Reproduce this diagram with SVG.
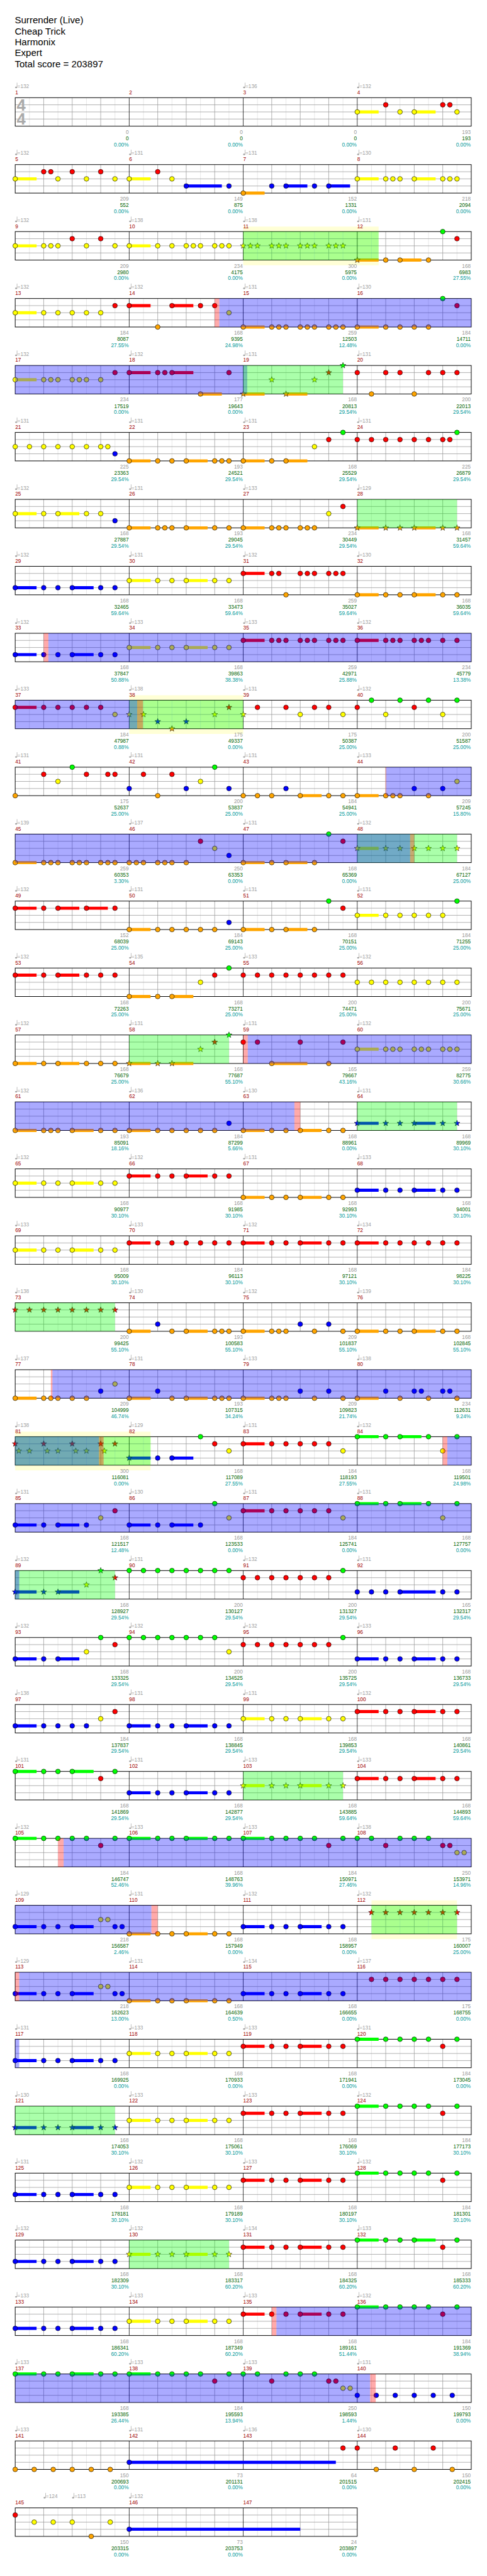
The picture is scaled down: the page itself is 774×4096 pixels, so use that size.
<svg xmlns="http://www.w3.org/2000/svg" width="774" height="4096" viewBox="0 0 774 4096">
<style>
text{font-family:"Liberation Sans",Arial,sans-serif}
.ti{font-size:20px;fill:#000}
.tp{font-size:11px;fill:#a0a0a0}
.mn{font-size:11px;fill:#a00000}
.gy{font-size:11px;fill:#999;text-anchor:end}
.gn{font-size:11px;fill:#006400;text-anchor:end}
.pc{font-size:11px;fill:#00999a;text-anchor:end}
.ts{font-size:34px;font-weight:bold;fill:#aaa}
.g{fill:#00ff00}.r{fill:#ff0000}.y{fill:#ffff00}.b{fill:#0000ff}.o{fill:#ffa500}
.sg,.sr,.sy,.sb,.so{fill:none;stroke-width:6.5}
.sg{stroke:#00ff00}.sr{stroke:#ff0000}.sy{stroke:#ffff00}.sb{stroke:#0000ff}.so{stroke:#ffa500}
.bo{fill:#0000ff;fill-opacity:.333}.go{fill:#00ff00;fill-opacity:.333}.po{fill:#ff0000;fill-opacity:.333}.pb{fill:#ffffd6}
</style>
<defs>
<g id="G4">
<path d="M62 0V60M122 0V60M182 0V60M242 0V60M302 0V60M362 0V60M422 0V60M482 0V60M542 0V60M602 0V60M662 0V60M722 0V60M782 0V60M842 0V60M902 0V60M962 0V60" stroke="#e0e0e0"/>
<path d="M92 0V60M152 0V60M212 0V60M332 0V60M392 0V60M452 0V60M572 0V60M632 0V60M692 0V60M812 0V60M872 0V60M932 0V60M32 15H992M32 30H992M32 45H992" stroke="#999"/>
<path d="M272 0V60M512 0V60M752 0V60" stroke="#000"/>
<rect x="32" y="0" width="960" height="60" fill="none" stroke="#000" stroke-width="1.3"/>
</g>
<g id="G3">
<path d="M62 0V60M122 0V60M182 0V60M242 0V60M302 0V60M362 0V60M422 0V60M482 0V60M542 0V60M602 0V60M662 0V60M722 0V60" stroke="#e0e0e0"/>
<path d="M92 0V60M152 0V60M212 0V60M332 0V60M392 0V60M452 0V60M572 0V60M632 0V60M692 0V60M32 15H752M32 30H752M32 45H752" stroke="#999"/>
<path d="M272 0V60M512 0V60" stroke="#000"/>
<rect x="32" y="0" width="720" height="60" fill="none" stroke="#000" stroke-width="1.3"/>
</g>
<circle id="c" r="5" stroke="#000" stroke-width="0.8"/>
<path id="s" d="M0,-6.5L1.59,-2.18L6.18,-2.01L2.57,0.83L3.82,5.26L0,2.7L-3.82,5.26L-2.57,0.83L-6.18,-2.01L-1.59,-2.18Z" stroke="#000" stroke-width="0.7"/>
<g id="q" fill="#a0a0a0"><ellipse cx="1.9" cy="0" rx="2.1" ry="1.6"/><rect x="3.4" y="-10" width="0.9" height="10"/></g>
<g id="Q4"><use href="#q" x="32" y="-21.5"/><use href="#q" x="272" y="-21.5"/><use href="#q" x="512" y="-21.5"/><use href="#q" x="752" y="-21.5"/></g>
</defs>
<g transform="scale(0.755)">
<g id="title" class="ti">
<text x="31" y="49.5">Surrender (Live)</text>
<text x="31" y="72.5">Cheap Trick</text>
<text x="31" y="95.5">Harmonix</text>
<text x="31" y="118.5">Expert</text>
<text x="31" y="141.5">Total score = 203897</text>
</g>

<g id="row1" transform="translate(0,205.7)">
<use href="#G4"/>
<text class="ts" x="35" y="27.3">4</text><text class="ts" x="35" y="57">4</text>
<path class="sy" d="M752 30h45M872 30h45"/>
<use href="#c" class="y" x="752" y="30"/><use href="#c" class="r" x="812" y="15"/><use href="#c" class="y" x="842" y="30"/><use href="#c" class="y" x="872" y="30"/><use href="#c" class="r" x="932" y="15"/><use href="#c" class="r" x="947" y="15"/><use href="#c" class="y" x="962" y="30"/>
<use href="#q" x="32" y="-21.5"/><use href="#q" x="512" y="-21.5"/><use href="#q" x="752" y="-21.5"/>
<text class="tp" y="-20.4"><tspan x="36.5">=132</tspan><tspan x="516.5">=136</tspan><tspan x="756.5">=132</tspan></text>
<text class="mn" y="-7.5"><tspan x="32">1</tspan><tspan x="272">2</tspan><tspan x="512">3</tspan><tspan x="752">4</tspan></text>
<text class="gy" y="76"><tspan x="271">0</tspan><tspan x="511">0</tspan><tspan x="751">0</tspan><tspan x="991">193</tspan></text>
<text class="gn" y="89.3"><tspan x="271">0</tspan><tspan x="511">0</tspan><tspan x="751">0</tspan><tspan x="991">193</tspan></text>
<text class="pc" y="102.3"><tspan x="271">0.00%</tspan><tspan x="511">0.00%</tspan><tspan x="751">0.00%</tspan><tspan x="991">0.00%</tspan></text>
</g>

<g id="row2" transform="translate(0,346.7)">
<use href="#G4"/>
<path class="sy" d="M32 30h45M272 30h45M752 30h45M872 30h45"/><path class="sb" d="M392 45h75M602 45h45M692 45h45"/><path class="so" d="M512 60h45"/>
<use href="#c" class="y" x="32" y="30"/><use href="#c" class="r" x="92" y="15"/><use href="#c" class="r" x="107" y="15"/><use href="#c" class="y" x="122" y="30"/><use href="#c" class="r" x="152" y="15"/><use href="#c" class="y" x="182" y="30"/><use href="#c" class="r" x="212" y="15"/><use href="#c" class="y" x="242" y="30"/><use href="#c" class="y" x="272" y="30"/><use href="#c" class="r" x="332" y="15"/><use href="#c" class="y" x="362" y="30"/><use href="#c" class="b" x="392" y="45"/><use href="#c" class="b" x="482" y="45"/><use href="#c" class="o" x="512" y="60"/><use href="#c" class="b" x="572" y="45"/><use href="#c" class="b" x="602" y="45"/><use href="#c" class="b" x="662" y="45"/><use href="#c" class="b" x="692" y="45"/><use href="#c" class="y" x="752" y="30"/><use href="#c" class="y" x="812" y="30"/><use href="#c" class="y" x="827" y="30"/><use href="#c" class="y" x="842" y="30"/><use href="#c" class="y" x="872" y="30"/><use href="#c" class="y" x="932" y="30"/><use href="#c" class="y" x="947" y="30"/><use href="#c" class="y" x="962" y="30"/>
<use href="#Q4"/>
<text class="tp" y="-20.4"><tspan x="36.5">=132</tspan><tspan x="276.5">=131</tspan><tspan x="516.5">=131</tspan><tspan x="756.5">=130</tspan></text>
<text class="mn" y="-7.5"><tspan x="32">5</tspan><tspan x="272">6</tspan><tspan x="512">7</tspan><tspan x="752">8</tspan></text>
<text class="gy" y="76"><tspan x="271">209</tspan><tspan x="511">149</tspan><tspan x="751">152</tspan><tspan x="991">218</tspan></text>
<text class="gn" y="89.3"><tspan x="271">552</tspan><tspan x="511">875</tspan><tspan x="751">1331</tspan><tspan x="991">2094</tspan></text>
<text class="pc" y="102.3"><tspan x="271">0.00%</tspan><tspan x="511">0.00%</tspan><tspan x="751">0.00%</tspan><tspan x="991">0.00%</tspan></text>
</g>

<g id="row3" transform="translate(0,487.7)">
<rect class="pb" x="512" y="-10.5" width="285" height="81.5"/>
<use href="#G4"/>
<path class="sy" d="M32 30h45M272 30h45"/><path class="so" d="M752 60h45M842 60h45"/>
<use href="#c" class="y" x="32" y="30"/><use href="#c" class="y" x="92" y="30"/><use href="#c" class="y" x="107" y="30"/><use href="#c" class="y" x="122" y="30"/><use href="#c" class="r" x="152" y="15"/><use href="#c" class="y" x="182" y="30"/><use href="#c" class="r" x="212" y="15"/><use href="#c" class="y" x="242" y="30"/><use href="#c" class="y" x="272" y="30"/><use href="#c" class="y" x="332" y="30"/><use href="#c" class="y" x="362" y="30"/><use href="#c" class="y" x="392" y="30"/><use href="#c" class="y" x="407" y="30"/><use href="#c" class="y" x="422" y="30"/><use href="#c" class="y" x="452" y="30"/><use href="#c" class="y" x="467" y="30"/><use href="#c" class="y" x="482" y="30"/>
<use href="#s" class="y" x="512" y="30"/><use href="#s" class="y" x="527" y="30"/><use href="#s" class="y" x="542" y="30"/><use href="#s" class="y" x="572" y="30"/><use href="#s" class="y" x="587" y="30"/><use href="#s" class="y" x="602" y="30"/><use href="#s" class="y" x="632" y="30"/><use href="#s" class="y" x="647" y="30"/><use href="#s" class="y" x="662" y="30"/><use href="#s" class="y" x="692" y="30"/><use href="#s" class="y" x="707" y="30"/><use href="#s" class="y" x="722" y="30"/><use href="#s" class="o" x="752" y="60"/>
<use href="#c" class="o" x="812" y="60"/><use href="#c" class="o" x="842" y="60"/><use href="#c" class="o" x="902" y="60"/><use href="#c" class="g" x="932" y="0"/><use href="#c" class="r" x="962" y="15"/>
<rect class="go" x="512" y="0" width="285" height="60"/>
<use href="#Q4"/>
<text class="tp" y="-20.4"><tspan x="36.5">=132</tspan><tspan x="276.5">=138</tspan><tspan x="516.5">=138</tspan><tspan x="756.5">=131</tspan></text>
<text class="mn" y="-7.5"><tspan x="32">9</tspan><tspan x="272">10</tspan><tspan x="512">11</tspan><tspan x="752">12</tspan></text>
<text class="gy" y="76"><tspan x="271">209</tspan><tspan x="511">234</tspan><tspan x="751">300</tspan><tspan x="991">168</tspan></text>
<text class="gn" y="89.3"><tspan x="271">2980</tspan><tspan x="511">4175</tspan><tspan x="751">5975</tspan><tspan x="991">6983</tspan></text>
<text class="pc" y="102.3"><tspan x="271">0.00%</tspan><tspan x="511">0.00%</tspan><tspan x="751">0.00%</tspan><tspan x="991">27.55%</tspan></text>
</g>

<g id="row4" transform="translate(0,628.7)">
<use href="#G4"/>
<path class="sy" d="M32 30h45"/><path class="sr" d="M272 15h45M362 15h45"/><path class="so" d="M512 60h45M752 60h45"/>
<use href="#c" class="y" x="32" y="30"/><use href="#c" class="y" x="92" y="30"/><use href="#c" class="y" x="122" y="30"/><use href="#c" class="y" x="152" y="30"/><use href="#c" class="y" x="182" y="30"/><use href="#c" class="y" x="212" y="30"/><use href="#c" class="r" x="242" y="15"/><use href="#c" class="r" x="272" y="15"/><use href="#c" class="o" x="332" y="60"/><use href="#c" class="r" x="362" y="15"/><use href="#c" class="r" x="422" y="15"/><use href="#c" class="r" x="452" y="15"/><use href="#c" class="y" x="482" y="30"/><use href="#c" class="o" x="512" y="60"/><use href="#c" class="o" x="572" y="60"/><use href="#c" class="o" x="587" y="60"/><use href="#c" class="o" x="602" y="60"/><use href="#c" class="o" x="632" y="60"/><use href="#c" class="o" x="647" y="60"/><use href="#c" class="o" x="662" y="60"/><use href="#c" class="o" x="692" y="60"/><use href="#c" class="o" x="707" y="60"/><use href="#c" class="o" x="722" y="60"/><use href="#c" class="o" x="752" y="60"/><use href="#c" class="o" x="812" y="60"/><use href="#c" class="o" x="842" y="60"/><use href="#c" class="o" x="872" y="60"/><use href="#c" class="o" x="902" y="60"/><use href="#c" class="g" x="932" y="0"/><use href="#c" class="r" x="962" y="15"/>
<rect class="po" x="451.9" y="0" width="9.8" height="60"/><rect class="bo" x="461.7" y="0" width="530.3" height="60"/>
<use href="#Q4"/>
<text class="tp" y="-20.4"><tspan x="36.5">=132</tspan><tspan x="276.5">=132</tspan><tspan x="516.5">=131</tspan><tspan x="756.5">=130</tspan></text>
<text class="mn" y="-7.5"><tspan x="32">13</tspan><tspan x="272">14</tspan><tspan x="512">15</tspan><tspan x="752">16</tspan></text>
<text class="gy" y="76"><tspan x="271">184</tspan><tspan x="511">168</tspan><tspan x="751">259</tspan><tspan x="991">184</tspan></text>
<text class="gn" y="89.3"><tspan x="271">8087</tspan><tspan x="511">9395</tspan><tspan x="751">12503</tspan><tspan x="991">14711</tspan></text>
<text class="pc" y="102.3"><tspan x="271">27.55%</tspan><tspan x="511">24.98%</tspan><tspan x="751">12.48%</tspan><tspan x="991">0.00%</tspan></text>
</g>

<g id="row5" transform="translate(0,769.7)">
<use href="#G4"/>
<path class="sy" d="M32 30h45"/><path class="sr" d="M272 15h45M362 15h45"/><path class="so" d="M422 60h45M512 60h45M602 60h45"/>
<use href="#c" class="y" x="32" y="30"/><use href="#c" class="y" x="92" y="30"/><use href="#c" class="y" x="107" y="30"/><use href="#c" class="y" x="122" y="30"/><use href="#c" class="y" x="152" y="30"/><use href="#c" class="y" x="167" y="30"/><use href="#c" class="y" x="182" y="30"/><use href="#c" class="y" x="212" y="30"/><use href="#c" class="r" x="242" y="15"/><use href="#c" class="r" x="272" y="15"/><use href="#c" class="r" x="332" y="15"/><use href="#c" class="r" x="347" y="15"/><use href="#c" class="r" x="362" y="15"/><use href="#c" class="o" x="422" y="60"/><use href="#c" class="r" x="482" y="15"/>
<use href="#s" class="o" x="512" y="60"/><use href="#s" class="y" x="572" y="30"/><use href="#s" class="o" x="602" y="60"/><use href="#s" class="y" x="662" y="30"/><use href="#s" class="r" x="692" y="15"/><use href="#s" class="g" x="722" y="0"/>
<use href="#c" class="r" x="752" y="15"/><use href="#c" class="o" x="782" y="60"/><use href="#c" class="r" x="812" y="15"/><use href="#c" class="r" x="842" y="15"/><use href="#c" class="o" x="872" y="60"/><use href="#c" class="r" x="902" y="15"/><use href="#c" class="r" x="932" y="15"/><use href="#c" class="r" x="962" y="15"/>
<rect class="bo" x="32" y="0" width="488.5" height="60"/><rect class="go" x="512" y="0" width="210" height="60"/>
<use href="#Q4"/>
<text class="tp" y="-20.4"><tspan x="36.5">=132</tspan><tspan x="276.5">=132</tspan><tspan x="516.5">=131</tspan><tspan x="756.5">=131</tspan></text>
<text class="mn" y="-7.5"><tspan x="32">17</tspan><tspan x="272">18</tspan><tspan x="512">19</tspan><tspan x="752">20</tspan></text>
<text class="gy" y="76"><tspan x="271">234</tspan><tspan x="511">177</tspan><tspan x="751">168</tspan><tspan x="991">200</tspan></text>
<text class="gn" y="89.3"><tspan x="271">17519</tspan><tspan x="511">19643</tspan><tspan x="751">20813</tspan><tspan x="991">22013</tspan></text>
<text class="pc" y="102.3"><tspan x="271">0.00%</tspan><tspan x="511">0.00%</tspan><tspan x="751">29.54%</tspan><tspan x="991">29.54%</tspan></text>
</g>

<g id="row6" transform="translate(0,910.7)">
<use href="#G4"/>
<path class="so" d="M272 60h45M392 60h45M512 60h45M602 60h45"/>
<use href="#c" class="y" x="32" y="30"/><use href="#c" class="y" x="62" y="30"/><use href="#c" class="y" x="92" y="30"/><use href="#c" class="y" x="122" y="30"/><use href="#c" class="y" x="152" y="30"/><use href="#c" class="y" x="182" y="30"/><use href="#c" class="y" x="212" y="30"/><use href="#c" class="y" x="227" y="30"/><use href="#c" class="b" x="242" y="45"/><use href="#c" class="o" x="272" y="60"/><use href="#c" class="o" x="332" y="60"/><use href="#c" class="o" x="362" y="60"/><use href="#c" class="o" x="392" y="60"/><use href="#c" class="o" x="452" y="60"/><use href="#c" class="o" x="467" y="60"/><use href="#c" class="o" x="482" y="60"/><use href="#c" class="o" x="512" y="60"/><use href="#c" class="o" x="572" y="60"/><use href="#c" class="o" x="602" y="60"/><use href="#c" class="y" x="662" y="30"/><use href="#c" class="r" x="692" y="15"/><use href="#c" class="g" x="722" y="0"/><use href="#c" class="r" x="752" y="15"/><use href="#c" class="r" x="782" y="15"/><use href="#c" class="r" x="812" y="15"/><use href="#c" class="r" x="842" y="15"/><use href="#c" class="r" x="872" y="15"/><use href="#c" class="r" x="902" y="15"/><use href="#c" class="r" x="932" y="15"/><use href="#c" class="r" x="947" y="15"/><use href="#c" class="g" x="962" y="0"/>
<use href="#Q4"/>
<text class="tp" y="-20.4"><tspan x="36.5">=131</tspan><tspan x="276.5">=131</tspan><tspan x="516.5">=131</tspan><tspan x="756.5">=131</tspan></text>
<text class="mn" y="-7.5"><tspan x="32">21</tspan><tspan x="272">22</tspan><tspan x="512">23</tspan><tspan x="752">24</tspan></text>
<text class="gy" y="76"><tspan x="271">225</tspan><tspan x="511">193</tspan><tspan x="751">168</tspan><tspan x="991">225</tspan></text>
<text class="gn" y="89.3"><tspan x="271">23363</tspan><tspan x="511">24521</tspan><tspan x="751">25529</tspan><tspan x="991">26879</tspan></text>
<text class="pc" y="102.3"><tspan x="271">29.54%</tspan><tspan x="511">29.54%</tspan><tspan x="751">29.54%</tspan><tspan x="991">29.54%</tspan></text>
</g>

<g id="row7" transform="translate(0,1051.7)">
<use href="#G4"/>
<path class="sy" d="M32 30h45M122 30h45"/><path class="so" d="M272 60h45M392 60h45M512 60h45M752 60h45M872 60h45"/>
<use href="#c" class="y" x="32" y="30"/><use href="#c" class="y" x="92" y="30"/><use href="#c" class="y" x="122" y="30"/><use href="#c" class="y" x="182" y="30"/><use href="#c" class="y" x="212" y="30"/><use href="#c" class="b" x="242" y="45"/><use href="#c" class="o" x="272" y="60"/><use href="#c" class="o" x="332" y="60"/><use href="#c" class="o" x="347" y="60"/><use href="#c" class="o" x="362" y="60"/><use href="#c" class="o" x="392" y="60"/><use href="#c" class="o" x="452" y="60"/><use href="#c" class="o" x="482" y="60"/><use href="#c" class="o" x="512" y="60"/><use href="#c" class="o" x="572" y="60"/><use href="#c" class="o" x="587" y="60"/><use href="#c" class="o" x="602" y="60"/><use href="#c" class="o" x="632" y="60"/><use href="#c" class="o" x="647" y="60"/><use href="#c" class="o" x="662" y="60"/><use href="#c" class="y" x="692" y="30"/><use href="#c" class="r" x="722" y="15"/>
<use href="#s" class="o" x="752" y="60"/><use href="#s" class="o" x="812" y="60"/><use href="#s" class="o" x="842" y="60"/><use href="#s" class="o" x="872" y="60"/><use href="#s" class="o" x="932" y="60"/><use href="#s" class="o" x="962" y="60"/>
<rect class="go" x="752" y="0" width="210" height="60"/>
<use href="#Q4"/>
<text class="tp" y="-20.4"><tspan x="36.5">=132</tspan><tspan x="276.5">=131</tspan><tspan x="516.5">=133</tspan><tspan x="756.5">=129</tspan></text>
<text class="mn" y="-7.5"><tspan x="32">25</tspan><tspan x="272">26</tspan><tspan x="512">27</tspan><tspan x="752">28</tspan></text>
<text class="gy" y="76"><tspan x="271">168</tspan><tspan x="511">193</tspan><tspan x="751">234</tspan><tspan x="991">168</tspan></text>
<text class="gn" y="89.3"><tspan x="271">27887</tspan><tspan x="511">29045</tspan><tspan x="751">30449</tspan><tspan x="991">31457</tspan></text>
<text class="pc" y="102.3"><tspan x="271">29.54%</tspan><tspan x="511">29.54%</tspan><tspan x="751">29.54%</tspan><tspan x="991">59.64%</tspan></text>
</g>

<g id="row8" transform="translate(0,1192.7)">
<use href="#G4"/>
<path class="sb" d="M32 45h45M152 45h45"/><path class="sy" d="M272 30h45M392 30h45"/><path class="sr" d="M512 15h45"/><path class="so" d="M752 60h45M872 60h45"/>
<use href="#c" class="b" x="32" y="45"/><use href="#c" class="b" x="92" y="45"/><use href="#c" class="b" x="122" y="45"/><use href="#c" class="b" x="152" y="45"/><use href="#c" class="b" x="212" y="45"/><use href="#c" class="b" x="242" y="45"/><use href="#c" class="y" x="272" y="30"/><use href="#c" class="y" x="332" y="30"/><use href="#c" class="y" x="362" y="30"/><use href="#c" class="y" x="392" y="30"/><use href="#c" class="y" x="452" y="30"/><use href="#c" class="y" x="482" y="30"/><use href="#c" class="r" x="512" y="15"/><use href="#c" class="r" x="572" y="15"/><use href="#c" class="r" x="587" y="15"/><use href="#c" class="o" x="602" y="60"/><use href="#c" class="r" x="632" y="15"/><use href="#c" class="r" x="647" y="15"/><use href="#c" class="r" x="662" y="15"/><use href="#c" class="r" x="692" y="15"/><use href="#c" class="r" x="707" y="15"/><use href="#c" class="r" x="722" y="15"/><use href="#c" class="o" x="752" y="60"/><use href="#c" class="o" x="812" y="60"/><use href="#c" class="o" x="842" y="60"/><use href="#c" class="o" x="872" y="60"/><use href="#c" class="o" x="932" y="60"/><use href="#c" class="o" x="962" y="60"/>
<use href="#Q4"/>
<text class="tp" y="-20.4"><tspan x="36.5">=132</tspan><tspan x="276.5">=131</tspan><tspan x="516.5">=132</tspan><tspan x="756.5">=130</tspan></text>
<text class="mn" y="-7.5"><tspan x="32">29</tspan><tspan x="272">30</tspan><tspan x="512">31</tspan><tspan x="752">32</tspan></text>
<text class="gy" y="76"><tspan x="271">168</tspan><tspan x="511">168</tspan><tspan x="751">259</tspan><tspan x="991">168</tspan></text>
<text class="gn" y="89.3"><tspan x="271">32465</tspan><tspan x="511">33473</tspan><tspan x="751">35027</tspan><tspan x="991">36035</tspan></text>
<text class="pc" y="102.3"><tspan x="271">59.64%</tspan><tspan x="511">59.64%</tspan><tspan x="751">59.64%</tspan><tspan x="991">59.64%</tspan></text>
</g>

<g id="row9" transform="translate(0,1333.7)">
<use href="#G4"/>
<path class="sb" d="M32 45h45M152 45h45"/><path class="sy" d="M272 30h45M392 30h45"/><path class="sr" d="M512 15h45M752 15h45"/>
<use href="#c" class="b" x="32" y="45"/><use href="#c" class="b" x="92" y="45"/><use href="#c" class="b" x="122" y="45"/><use href="#c" class="b" x="152" y="45"/><use href="#c" class="b" x="212" y="45"/><use href="#c" class="b" x="242" y="45"/><use href="#c" class="y" x="272" y="30"/><use href="#c" class="y" x="332" y="30"/><use href="#c" class="y" x="362" y="30"/><use href="#c" class="y" x="392" y="30"/><use href="#c" class="y" x="452" y="30"/><use href="#c" class="y" x="482" y="30"/><use href="#c" class="r" x="512" y="15"/><use href="#c" class="r" x="572" y="15"/><use href="#c" class="r" x="587" y="15"/><use href="#c" class="r" x="602" y="15"/><use href="#c" class="r" x="632" y="15"/><use href="#c" class="r" x="647" y="15"/><use href="#c" class="r" x="662" y="15"/><use href="#c" class="r" x="692" y="15"/><use href="#c" class="r" x="707" y="15"/><use href="#c" class="r" x="722" y="15"/><use href="#c" class="r" x="752" y="15"/><use href="#c" class="r" x="812" y="15"/><use href="#c" class="r" x="827" y="15"/><use href="#c" class="r" x="842" y="15"/><use href="#c" class="r" x="872" y="15"/><use href="#c" class="r" x="887" y="15"/><use href="#c" class="r" x="902" y="15"/><use href="#c" class="r" x="932" y="15"/><use href="#c" class="r" x="962" y="15"/>
<rect class="po" x="92.1" y="0" width="9.8" height="60"/><rect class="bo" x="101.9" y="0" width="890.1" height="60"/>
<use href="#Q4"/>
<text class="tp" y="-20.4"><tspan x="36.5">=132</tspan><tspan x="276.5">=133</tspan><tspan x="516.5">=133</tspan><tspan x="756.5">=132</tspan></text>
<text class="mn" y="-7.5"><tspan x="32">33</tspan><tspan x="272">34</tspan><tspan x="512">35</tspan><tspan x="752">36</tspan></text>
<text class="gy" y="76"><tspan x="271">168</tspan><tspan x="511">168</tspan><tspan x="751">259</tspan><tspan x="991">234</tspan></text>
<text class="gn" y="89.3"><tspan x="271">37847</tspan><tspan x="511">39863</tspan><tspan x="751">42971</tspan><tspan x="991">45779</tspan></text>
<text class="pc" y="102.3"><tspan x="271">50.88%</tspan><tspan x="511">38.38%</tspan><tspan x="751">25.88%</tspan><tspan x="991">13.38%</tspan></text>
</g>

<g id="row10" transform="translate(0,1474.7)">
<rect class="pb" x="272" y="-10.5" width="240" height="81.5"/>
<use href="#G4"/>
<path class="sr" d="M32 15h45"/>
<use href="#c" class="r" x="32" y="15"/><use href="#c" class="r" x="92" y="15"/><use href="#c" class="r" x="122" y="15"/><use href="#c" class="r" x="152" y="15"/><use href="#c" class="r" x="182" y="15"/><use href="#c" class="r" x="212" y="15"/><use href="#c" class="y" x="242" y="30"/>
<use href="#s" class="y" x="272" y="30"/><use href="#s" class="y" x="302" y="30"/><use href="#s" class="b" x="332" y="45"/><use href="#s" class="o" x="362" y="60"/><use href="#s" class="b" x="392" y="45"/><use href="#s" class="y" x="452" y="30"/><use href="#s" class="r" x="482" y="15"/><use href="#s" class="y" x="512" y="30"/>
<use href="#c" class="r" x="542" y="15"/><use href="#c" class="r" x="602" y="15"/><use href="#c" class="y" x="632" y="30"/><use href="#c" class="r" x="662" y="15"/><use href="#c" class="r" x="692" y="15"/><use href="#c" class="y" x="722" y="30"/><use href="#c" class="r" x="752" y="15"/><use href="#c" class="g" x="782" y="0"/><use href="#c" class="y" x="812" y="30"/><use href="#c" class="g" x="842" y="0"/><use href="#c" class="r" x="872" y="15"/><use href="#c" class="g" x="902" y="0"/><use href="#c" class="y" x="932" y="30"/><use href="#c" class="g" x="962" y="0"/>
<rect class="go" x="272" y="0" width="240" height="60"/><rect class="bo" x="32" y="0" width="256.7" height="60"/><rect class="po" x="288.7" y="0" width="12.3" height="60"/>
<use href="#Q4"/>
<text class="tp" y="-20.4"><tspan x="36.5">=133</tspan><tspan x="276.5">=138</tspan><tspan x="516.5">=131</tspan><tspan x="756.5">=132</tspan></text>
<text class="mn" y="-7.5"><tspan x="32">37</tspan><tspan x="272">38</tspan><tspan x="512">39</tspan><tspan x="752">40</tspan></text>
<text class="gy" y="76"><tspan x="271">184</tspan><tspan x="511">175</tspan><tspan x="751">175</tspan><tspan x="991">200</tspan></text>
<text class="gn" y="89.3"><tspan x="271">47987</tspan><tspan x="511">49337</tspan><tspan x="751">50387</tspan><tspan x="991">51587</tspan></text>
<text class="pc" y="102.3"><tspan x="271">0.88%</tspan><tspan x="511">0.00%</tspan><tspan x="751">25.00%</tspan><tspan x="991">25.00%</tspan></text>
</g>

<g id="row11" transform="translate(0,1615.7)">
<use href="#G4"/>
<path class="so" d="M632 60h45M752 60h45"/>
<use href="#c" class="o" x="32" y="60"/><use href="#c" class="r" x="92" y="15"/><use href="#c" class="y" x="122" y="30"/><use href="#c" class="g" x="152" y="0"/><use href="#c" class="r" x="182" y="15"/><use href="#c" class="r" x="227" y="15"/><use href="#c" class="r" x="242" y="15"/><use href="#c" class="b" x="272" y="45"/><use href="#c" class="r" x="302" y="15"/><use href="#c" class="o" x="332" y="60"/><use href="#c" class="r" x="362" y="15"/><use href="#c" class="b" x="392" y="45"/><use href="#c" class="y" x="422" y="30"/><use href="#c" class="g" x="452" y="0"/><use href="#c" class="b" x="482" y="45"/><use href="#c" class="o" x="512" y="60"/><use href="#c" class="o" x="542" y="60"/><use href="#c" class="o" x="572" y="60"/><use href="#c" class="b" x="602" y="45"/><use href="#c" class="o" x="632" y="60"/><use href="#c" class="o" x="692" y="60"/><use href="#c" class="o" x="722" y="60"/><use href="#c" class="o" x="752" y="60"/><use href="#c" class="o" x="812" y="60"/><use href="#c" class="o" x="827" y="60"/><use href="#c" class="o" x="842" y="60"/><use href="#c" class="b" x="872" y="45"/><use href="#c" class="o" x="902" y="60"/><use href="#c" class="b" x="932" y="45"/><use href="#c" class="y" x="962" y="30"/>
<rect class="po" x="811.5" y="0" width="1.5" height="60"/><rect class="bo" x="813" y="0" width="179" height="60"/>
<use href="#Q4"/>
<text class="tp" y="-20.4"><tspan x="36.5">=131</tspan><tspan x="276.5">=131</tspan><tspan x="516.5">=131</tspan><tspan x="756.5">=133</tspan></text>
<text class="mn" y="-7.5"><tspan x="32">41</tspan><tspan x="272">42</tspan><tspan x="512">43</tspan><tspan x="752">44</tspan></text>
<text class="gy" y="76"><tspan x="271">175</tspan><tspan x="511">200</tspan><tspan x="751">184</tspan><tspan x="991">209</tspan></text>
<text class="gn" y="89.3"><tspan x="271">52637</tspan><tspan x="511">53837</tspan><tspan x="751">54941</tspan><tspan x="991">57245</tspan></text>
<text class="pc" y="102.3"><tspan x="271">25.00%</tspan><tspan x="511">25.00%</tspan><tspan x="751">25.00%</tspan><tspan x="991">15.80%</tspan></text>
</g>

<g id="row12" transform="translate(0,1756.7)">
<use href="#G4"/>
<path class="so" d="M32 60h45M512 60h45M602 60h45"/><path class="sy" d="M752 30h45"/>
<use href="#c" class="o" x="32" y="60"/><use href="#c" class="o" x="92" y="60"/><use href="#c" class="o" x="107" y="60"/><use href="#c" class="o" x="122" y="60"/><use href="#c" class="o" x="152" y="60"/><use href="#c" class="o" x="167" y="60"/><use href="#c" class="o" x="182" y="60"/><use href="#c" class="o" x="212" y="60"/><use href="#c" class="o" x="227" y="60"/><use href="#c" class="o" x="242" y="60"/><use href="#c" class="o" x="272" y="60"/><use href="#c" class="o" x="287" y="60"/><use href="#c" class="o" x="302" y="60"/><use href="#c" class="o" x="332" y="60"/><use href="#c" class="o" x="347" y="60"/><use href="#c" class="o" x="362" y="60"/><use href="#c" class="o" x="392" y="60"/><use href="#c" class="r" x="422" y="15"/><use href="#c" class="y" x="452" y="30"/><use href="#c" class="b" x="482" y="45"/><use href="#c" class="o" x="512" y="60"/><use href="#c" class="o" x="572" y="60"/><use href="#c" class="o" x="602" y="60"/><use href="#c" class="o" x="662" y="60"/><use href="#c" class="g" x="692" y="0"/><use href="#c" class="r" x="722" y="15"/>
<use href="#s" class="y" x="752" y="30"/><use href="#s" class="y" x="812" y="30"/><use href="#s" class="y" x="842" y="30"/><use href="#s" class="y" x="872" y="30"/><use href="#s" class="y" x="902" y="30"/><use href="#s" class="y" x="932" y="30"/><use href="#s" class="y" x="962" y="30"/>
<rect class="go" x="752" y="0" width="210" height="60"/><rect class="bo" x="32" y="0" width="831.3" height="60"/><rect class="po" x="863.3" y="0" width="8.7" height="60"/>
<use href="#Q4"/>
<text class="tp" y="-20.4"><tspan x="36.5">=139</tspan><tspan x="276.5">=137</tspan><tspan x="516.5">=131</tspan><tspan x="756.5">=132</tspan></text>
<text class="mn" y="-7.5"><tspan x="32">45</tspan><tspan x="272">46</tspan><tspan x="512">47</tspan><tspan x="752">48</tspan></text>
<text class="gy" y="76"><tspan x="271">259</tspan><tspan x="511">250</tspan><tspan x="751">168</tspan><tspan x="991">184</tspan></text>
<text class="gn" y="89.3"><tspan x="271">60353</tspan><tspan x="511">63353</tspan><tspan x="751">65369</tspan><tspan x="991">67127</tspan></text>
<text class="pc" y="102.3"><tspan x="271">3.30%</tspan><tspan x="511">0.00%</tspan><tspan x="751">0.00%</tspan><tspan x="991">25.00%</tspan></text>
</g>

<g id="row13" transform="translate(0,1897.7)">
<use href="#G4"/>
<path class="sr" d="M32 15h45M122 15h45M182 15h45"/><path class="so" d="M272 60h45M512 60h45M602 60h45"/><path class="sy" d="M752 30h45"/>
<use href="#c" class="r" x="32" y="15"/><use href="#c" class="r" x="92" y="15"/><use href="#c" class="r" x="122" y="15"/><use href="#c" class="r" x="182" y="15"/><use href="#c" class="r" x="242" y="15"/><use href="#c" class="o" x="272" y="60"/><use href="#c" class="o" x="332" y="60"/><use href="#c" class="o" x="362" y="60"/><use href="#c" class="o" x="392" y="60"/><use href="#c" class="o" x="422" y="60"/><use href="#c" class="o" x="452" y="60"/><use href="#c" class="b" x="482" y="45"/><use href="#c" class="o" x="512" y="60"/><use href="#c" class="o" x="572" y="60"/><use href="#c" class="o" x="602" y="60"/><use href="#c" class="o" x="662" y="60"/><use href="#c" class="g" x="692" y="0"/><use href="#c" class="r" x="722" y="15"/><use href="#c" class="y" x="752" y="30"/><use href="#c" class="y" x="812" y="30"/><use href="#c" class="y" x="842" y="30"/><use href="#c" class="y" x="872" y="30"/><use href="#c" class="y" x="902" y="30"/><use href="#c" class="y" x="932" y="30"/><use href="#c" class="g" x="962" y="0"/>
<use href="#Q4"/>
<text class="tp" y="-20.4"><tspan x="36.5">=132</tspan><tspan x="276.5">=131</tspan><tspan x="516.5">=131</tspan><tspan x="756.5">=131</tspan></text>
<text class="mn" y="-7.5"><tspan x="32">49</tspan><tspan x="272">50</tspan><tspan x="512">51</tspan><tspan x="752">52</tspan></text>
<text class="gy" y="76"><tspan x="271">152</tspan><tspan x="511">184</tspan><tspan x="751">168</tspan><tspan x="991">184</tspan></text>
<text class="gn" y="89.3"><tspan x="271">68039</tspan><tspan x="511">69143</tspan><tspan x="751">70151</tspan><tspan x="991">71255</tspan></text>
<text class="pc" y="102.3"><tspan x="271">25.00%</tspan><tspan x="511">25.00%</tspan><tspan x="751">25.00%</tspan><tspan x="991">25.00%</tspan></text>
</g>

<g id="row14" transform="translate(0,2038.7)">
<use href="#G4"/>
<path class="sr" d="M32 15h45M122 15h45"/><path class="so" d="M272 60h45M362 60h45"/>
<use href="#c" class="r" x="32" y="15"/><use href="#c" class="r" x="92" y="15"/><use href="#c" class="r" x="122" y="15"/><use href="#c" class="r" x="182" y="15"/><use href="#c" class="r" x="212" y="15"/><use href="#c" class="r" x="242" y="15"/><use href="#c" class="o" x="272" y="60"/><use href="#c" class="o" x="332" y="60"/><use href="#c" class="o" x="362" y="60"/><use href="#c" class="y" x="422" y="30"/><use href="#c" class="r" x="452" y="15"/><use href="#c" class="g" x="482" y="0"/><use href="#c" class="r" x="512" y="15"/><use href="#c" class="r" x="542" y="15"/><use href="#c" class="r" x="572" y="15"/><use href="#c" class="r" x="602" y="15"/><use href="#c" class="r" x="632" y="15"/><use href="#c" class="r" x="662" y="15"/><use href="#c" class="r" x="692" y="15"/><use href="#c" class="r" x="722" y="15"/><use href="#c" class="y" x="752" y="30"/><use href="#c" class="y" x="782" y="30"/><use href="#c" class="y" x="812" y="30"/><use href="#c" class="y" x="842" y="30"/><use href="#c" class="y" x="872" y="30"/><use href="#c" class="y" x="902" y="30"/><use href="#c" class="y" x="932" y="30"/><use href="#c" class="y" x="962" y="30"/>
<use href="#Q4"/>
<text class="tp" y="-20.4"><tspan x="36.5">=132</tspan><tspan x="276.5">=135</tspan><tspan x="516.5">=133</tspan><tspan x="756.5">=132</tspan></text>
<text class="mn" y="-7.5"><tspan x="32">53</tspan><tspan x="272">54</tspan><tspan x="512">55</tspan><tspan x="752">56</tspan></text>
<text class="gy" y="76"><tspan x="271">168</tspan><tspan x="511">168</tspan><tspan x="751">200</tspan><tspan x="991">200</tspan></text>
<text class="gn" y="89.3"><tspan x="271">72263</tspan><tspan x="511">73271</tspan><tspan x="751">74471</tspan><tspan x="991">75671</tspan></text>
<text class="pc" y="102.3"><tspan x="271">25.00%</tspan><tspan x="511">25.00%</tspan><tspan x="751">25.00%</tspan><tspan x="991">25.00%</tspan></text>
</g>

<g id="row15" transform="translate(0,2179.7)">
<use href="#G4"/>
<path class="so" d="M32 60h45M122 60h45M272 60h45M362 60h45M572 60h75"/><path class="sy" d="M752 30h45"/>
<use href="#c" class="o" x="32" y="60"/><use href="#c" class="o" x="92" y="60"/><use href="#c" class="o" x="122" y="60"/><use href="#c" class="o" x="182" y="60"/><use href="#c" class="o" x="212" y="60"/><use href="#c" class="o" x="242" y="60"/>
<use href="#s" class="o" x="272" y="60"/><use href="#s" class="o" x="332" y="60"/><use href="#s" class="o" x="362" y="60"/><use href="#s" class="y" x="422" y="30"/><use href="#s" class="r" x="452" y="15"/><use href="#s" class="g" x="482" y="0"/>
<use href="#c" class="r" x="512" y="15"/><use href="#c" class="r" x="542" y="15"/><use href="#c" class="o" x="572" y="60"/><use href="#c" class="r" x="632" y="15"/><use href="#c" class="o" x="692" y="60"/><use href="#c" class="r" x="722" y="15"/><use href="#c" class="y" x="752" y="30"/><use href="#c" class="y" x="812" y="30"/><use href="#c" class="y" x="827" y="30"/><use href="#c" class="y" x="842" y="30"/><use href="#c" class="y" x="872" y="30"/><use href="#c" class="y" x="887" y="30"/><use href="#c" class="y" x="902" y="30"/><use href="#c" class="y" x="932" y="30"/><use href="#c" class="y" x="947" y="30"/><use href="#c" class="y" x="962" y="30"/>
<rect class="go" x="272" y="0" width="210" height="60"/><rect class="po" x="512" y="0" width="9.6" height="60"/><rect class="bo" x="521.6" y="0" width="470.4" height="60"/>
<use href="#Q4"/>
<text class="tp" y="-20.4"><tspan x="36.5">=132</tspan><tspan x="276.5">=131</tspan><tspan x="516.5">=131</tspan><tspan x="756.5">=132</tspan></text>
<text class="mn" y="-7.5"><tspan x="32">57</tspan><tspan x="272">58</tspan><tspan x="512">59</tspan><tspan x="752">60</tspan></text>
<text class="gy" y="76"><tspan x="271">168</tspan><tspan x="511">168</tspan><tspan x="751">165</tspan><tspan x="991">259</tspan></text>
<text class="gn" y="89.3"><tspan x="271">76679</tspan><tspan x="511">77687</tspan><tspan x="751">79667</tspan><tspan x="991">82775</tspan></text>
<text class="pc" y="102.3"><tspan x="271">25.00%</tspan><tspan x="511">55.10%</tspan><tspan x="751">43.16%</tspan><tspan x="991">30.66%</tspan></text>
</g>

<g id="row16" transform="translate(0,2320.7)">
<use href="#G4"/>
<path class="so" d="M32 60h45M152 60h45M272 60h45M512 60h45M632 60h45"/><path class="sb" d="M752 45h45M872 45h45"/>
<use href="#c" class="o" x="32" y="60"/><use href="#c" class="o" x="92" y="60"/><use href="#c" class="o" x="107" y="60"/><use href="#c" class="o" x="122" y="60"/><use href="#c" class="o" x="152" y="60"/><use href="#c" class="o" x="212" y="60"/><use href="#c" class="o" x="242" y="60"/><use href="#c" class="o" x="272" y="60"/><use href="#c" class="o" x="332" y="60"/><use href="#c" class="o" x="362" y="60"/><use href="#c" class="o" x="392" y="60"/><use href="#c" class="o" x="422" y="60"/><use href="#c" class="o" x="452" y="60"/><use href="#c" class="b" x="482" y="45"/><use href="#c" class="o" x="512" y="60"/><use href="#c" class="o" x="572" y="60"/><use href="#c" class="o" x="602" y="60"/><use href="#c" class="o" x="632" y="60"/><use href="#c" class="o" x="692" y="60"/><use href="#c" class="o" x="722" y="60"/>
<use href="#s" class="b" x="752" y="45"/><use href="#s" class="b" x="812" y="45"/><use href="#s" class="b" x="842" y="45"/><use href="#s" class="b" x="872" y="45"/><use href="#s" class="b" x="932" y="45"/><use href="#s" class="b" x="962" y="45"/>
<rect class="bo" x="32" y="0" width="587.8" height="60"/><rect class="po" x="619.8" y="0" width="12.2" height="60"/><rect class="go" x="752" y="0" width="210" height="60"/>
<use href="#Q4"/>
<text class="tp" y="-20.4"><tspan x="36.5">=132</tspan><tspan x="276.5">=136</tspan><tspan x="516.5">=130</tspan><tspan x="756.5">=131</tspan></text>
<text class="mn" y="-7.5"><tspan x="32">61</tspan><tspan x="272">62</tspan><tspan x="512">63</tspan><tspan x="752">64</tspan></text>
<text class="gy" y="76"><tspan x="271">193</tspan><tspan x="511">184</tspan><tspan x="751">168</tspan><tspan x="991">168</tspan></text>
<text class="gn" y="89.3"><tspan x="271">85091</tspan><tspan x="511">87299</tspan><tspan x="751">88961</tspan><tspan x="991">89969</tspan></text>
<text class="pc" y="102.3"><tspan x="271">18.16%</tspan><tspan x="511">5.66%</tspan><tspan x="751">0.00%</tspan><tspan x="991">30.10%</tspan></text>
</g>

<g id="row17" transform="translate(0,2461.7)">
<use href="#G4"/>
<path class="sy" d="M32 30h45M152 30h45"/><path class="sr" d="M272 15h45M392 15h45"/><path class="so" d="M512 60h45M632 60h45"/><path class="sb" d="M752 45h45M872 45h45"/>
<use href="#c" class="y" x="32" y="30"/><use href="#c" class="y" x="92" y="30"/><use href="#c" class="y" x="122" y="30"/><use href="#c" class="y" x="152" y="30"/><use href="#c" class="y" x="212" y="30"/><use href="#c" class="y" x="242" y="30"/><use href="#c" class="r" x="272" y="15"/><use href="#c" class="r" x="332" y="15"/><use href="#c" class="r" x="362" y="15"/><use href="#c" class="r" x="392" y="15"/><use href="#c" class="r" x="452" y="15"/><use href="#c" class="r" x="482" y="15"/><use href="#c" class="o" x="512" y="60"/><use href="#c" class="o" x="572" y="60"/><use href="#c" class="o" x="602" y="60"/><use href="#c" class="o" x="632" y="60"/><use href="#c" class="o" x="692" y="60"/><use href="#c" class="o" x="722" y="60"/><use href="#c" class="b" x="752" y="45"/><use href="#c" class="b" x="812" y="45"/><use href="#c" class="b" x="842" y="45"/><use href="#c" class="b" x="872" y="45"/><use href="#c" class="b" x="932" y="45"/><use href="#c" class="b" x="962" y="45"/>
<use href="#Q4"/>
<text class="tp" y="-20.4"><tspan x="36.5">=132</tspan><tspan x="276.5">=132</tspan><tspan x="516.5">=131</tspan><tspan x="756.5">=133</tspan></text>
<text class="mn" y="-7.5"><tspan x="32">65</tspan><tspan x="272">66</tspan><tspan x="512">67</tspan><tspan x="752">68</tspan></text>
<text class="gy" y="76"><tspan x="271">168</tspan><tspan x="511">168</tspan><tspan x="751">168</tspan><tspan x="991">168</tspan></text>
<text class="gn" y="89.3"><tspan x="271">90977</tspan><tspan x="511">91985</tspan><tspan x="751">92993</tspan><tspan x="991">94001</tspan></text>
<text class="pc" y="102.3"><tspan x="271">30.10%</tspan><tspan x="511">30.10%</tspan><tspan x="751">30.10%</tspan><tspan x="991">30.10%</tspan></text>
</g>

<g id="row18" transform="translate(0,2602.7)">
<use href="#G4"/>
<path class="sy" d="M32 30h45M152 30h45"/><path class="sr" d="M272 15h45M512 15h45M632 15h45M752 15h45"/>
<use href="#c" class="y" x="32" y="30"/><use href="#c" class="y" x="92" y="30"/><use href="#c" class="y" x="122" y="30"/><use href="#c" class="y" x="152" y="30"/><use href="#c" class="y" x="212" y="30"/><use href="#c" class="y" x="242" y="30"/><use href="#c" class="r" x="272" y="15"/><use href="#c" class="r" x="332" y="15"/><use href="#c" class="r" x="362" y="15"/><use href="#c" class="r" x="392" y="15"/><use href="#c" class="r" x="422" y="15"/><use href="#c" class="r" x="452" y="15"/><use href="#c" class="r" x="482" y="15"/><use href="#c" class="r" x="512" y="15"/><use href="#c" class="r" x="572" y="15"/><use href="#c" class="r" x="602" y="15"/><use href="#c" class="r" x="632" y="15"/><use href="#c" class="r" x="692" y="15"/><use href="#c" class="r" x="722" y="15"/><use href="#c" class="r" x="752" y="15"/><use href="#c" class="r" x="812" y="15"/><use href="#c" class="r" x="842" y="15"/><use href="#c" class="r" x="872" y="15"/><use href="#c" class="r" x="902" y="15"/><use href="#c" class="r" x="932" y="15"/><use href="#c" class="r" x="962" y="15"/>
<use href="#Q4"/>
<text class="tp" y="-20.4"><tspan x="36.5">=133</tspan><tspan x="276.5">=133</tspan><tspan x="516.5">=132</tspan><tspan x="756.5">=134</tspan></text>
<text class="mn" y="-7.5"><tspan x="32">69</tspan><tspan x="272">70</tspan><tspan x="512">71</tspan><tspan x="752">72</tspan></text>
<text class="gy" y="76"><tspan x="271">168</tspan><tspan x="511">184</tspan><tspan x="751">168</tspan><tspan x="991">184</tspan></text>
<text class="gn" y="89.3"><tspan x="271">95009</tspan><tspan x="511">96113</tspan><tspan x="751">97121</tspan><tspan x="991">98225</tspan></text>
<text class="pc" y="102.3"><tspan x="271">30.10%</tspan><tspan x="511">30.10%</tspan><tspan x="751">30.10%</tspan><tspan x="991">30.10%</tspan></text>
</g>

<g id="row19" transform="translate(0,2743.7)">
<use href="#G4"/>
<path class="so" d="M272 60h45M392 60h45M512 60h45M752 60h45M872 60h45"/>
<use href="#s" class="r" x="32" y="15"/><use href="#s" class="r" x="62" y="15"/><use href="#s" class="r" x="92" y="15"/><use href="#s" class="r" x="122" y="15"/><use href="#s" class="r" x="152" y="15"/><use href="#s" class="r" x="182" y="15"/><use href="#s" class="r" x="212" y="15"/><use href="#s" class="r" x="242" y="15"/>
<use href="#c" class="o" x="272" y="60"/><use href="#c" class="b" x="332" y="45"/><use href="#c" class="o" x="362" y="60"/><use href="#c" class="o" x="392" y="60"/><use href="#c" class="o" x="452" y="60"/><use href="#c" class="o" x="467" y="60"/><use href="#c" class="o" x="482" y="60"/><use href="#c" class="o" x="512" y="60"/><use href="#c" class="o" x="572" y="60"/><use href="#c" class="o" x="587" y="60"/><use href="#c" class="o" x="602" y="60"/><use href="#c" class="b" x="632" y="45"/><use href="#c" class="o" x="662" y="60"/><use href="#c" class="b" x="692" y="45"/><use href="#c" class="o" x="722" y="60"/><use href="#c" class="o" x="752" y="60"/><use href="#c" class="o" x="812" y="60"/><use href="#c" class="o" x="842" y="60"/><use href="#c" class="o" x="872" y="60"/><use href="#c" class="o" x="932" y="60"/><use href="#c" class="o" x="962" y="60"/>
<rect class="go" x="32" y="0" width="210" height="60"/>
<use href="#Q4"/>
<text class="tp" y="-20.4"><tspan x="36.5">=138</tspan><tspan x="276.5">=130</tspan><tspan x="516.5">=132</tspan><tspan x="756.5">=139</tspan></text>
<text class="mn" y="-7.5"><tspan x="32">73</tspan><tspan x="272">74</tspan><tspan x="512">75</tspan><tspan x="752">76</tspan></text>
<text class="gy" y="76"><tspan x="271">200</tspan><tspan x="511">193</tspan><tspan x="751">209</tspan><tspan x="991">168</tspan></text>
<text class="gn" y="89.3"><tspan x="271">99425</tspan><tspan x="511">100583</tspan><tspan x="751">101837</tspan><tspan x="991">102845</tspan></text>
<text class="pc" y="102.3"><tspan x="271">55.10%</tspan><tspan x="511">55.10%</tspan><tspan x="751">55.10%</tspan><tspan x="991">55.10%</tspan></text>
</g>

<g id="row20" transform="translate(0,2884.7)">
<use href="#G4"/>
<path class="so" d="M32 60h45M272 60h45M392 60h45M512 60h45M752 60h45"/>
<use href="#c" class="o" x="32" y="60"/><use href="#c" class="o" x="92" y="60"/><use href="#c" class="o" x="107" y="60"/><use href="#c" class="o" x="122" y="60"/><use href="#c" class="o" x="152" y="60"/><use href="#c" class="o" x="182" y="60"/><use href="#c" class="b" x="212" y="45"/><use href="#c" class="y" x="242" y="30"/><use href="#c" class="o" x="272" y="60"/><use href="#c" class="b" x="332" y="45"/><use href="#c" class="o" x="362" y="60"/><use href="#c" class="o" x="392" y="60"/><use href="#c" class="o" x="452" y="60"/><use href="#c" class="o" x="467" y="60"/><use href="#c" class="o" x="482" y="60"/><use href="#c" class="o" x="512" y="60"/><use href="#c" class="o" x="572" y="60"/><use href="#c" class="o" x="587" y="60"/><use href="#c" class="o" x="602" y="60"/><use href="#c" class="b" x="632" y="45"/><use href="#c" class="o" x="662" y="60"/><use href="#c" class="b" x="692" y="45"/><use href="#c" class="o" x="722" y="60"/><use href="#c" class="o" x="752" y="60"/><use href="#c" class="b" x="812" y="45"/><use href="#c" class="o" x="842" y="60"/><use href="#c" class="b" x="872" y="45"/><use href="#c" class="b" x="887" y="45"/><use href="#c" class="o" x="902" y="60"/><use href="#c" class="b" x="932" y="45"/><use href="#c" class="b" x="947" y="45"/><use href="#c" class="o" x="962" y="60"/>
<rect class="po" x="107.1" y="0" width="3.3" height="60"/><rect class="bo" x="110.4" y="0" width="881.6" height="60"/>
<use href="#Q4"/>
<text class="tp" y="-20.4"><tspan x="36.5">=137</tspan><tspan x="276.5">=131</tspan><tspan x="516.5">=133</tspan><tspan x="756.5">=138</tspan></text>
<text class="mn" y="-7.5"><tspan x="32">77</tspan><tspan x="272">78</tspan><tspan x="512">79</tspan><tspan x="752">80</tspan></text>
<text class="gy" y="76"><tspan x="271">209</tspan><tspan x="511">193</tspan><tspan x="751">209</tspan><tspan x="991">234</tspan></text>
<text class="gn" y="89.3"><tspan x="271">104999</tspan><tspan x="511">107315</tspan><tspan x="751">109823</tspan><tspan x="991">112631</tspan></text>
<text class="pc" y="102.3"><tspan x="271">46.74%</tspan><tspan x="511">34.24%</tspan><tspan x="751">21.74%</tspan><tspan x="991">9.24%</tspan></text>
</g>

<g id="row21" transform="translate(0,3025.7)">
<rect class="pb" x="32" y="-10.5" width="285" height="81.5"/>
<use href="#G4"/>
<path class="sb" d="M272 45h45M362 45h45"/><path class="sr" d="M512 15h45"/><path class="sg" d="M752 0h45M842 0h45"/>
<use href="#s" class="r" x="32" y="15"/><use href="#s" class="y" x="39.5" y="30"/><use href="#s" class="y" x="62" y="30"/><use href="#s" class="r" x="92" y="15"/><use href="#s" class="y" x="99.5" y="30"/><use href="#s" class="y" x="122" y="30"/><use href="#s" class="r" x="152" y="15"/><use href="#s" class="y" x="159.5" y="30"/><use href="#s" class="y" x="182" y="30"/><use href="#s" class="r" x="212" y="15"/><use href="#s" class="y" x="219.5" y="30"/><use href="#s" class="r" x="242" y="15"/><use href="#s" class="b" x="272" y="45"/>
<use href="#c" class="b" x="332" y="45"/><use href="#c" class="b" x="362" y="45"/><use href="#c" class="g" x="422" y="0"/><use href="#c" class="r" x="452" y="15"/><use href="#c" class="y" x="482" y="30"/><use href="#c" class="r" x="512" y="15"/><use href="#c" class="r" x="572" y="15"/><use href="#c" class="r" x="602" y="15"/><use href="#c" class="r" x="632" y="15"/><use href="#c" class="r" x="662" y="15"/><use href="#c" class="r" x="692" y="15"/><use href="#c" class="y" x="722" y="30"/><use href="#c" class="g" x="752" y="0"/><use href="#c" class="g" x="812" y="0"/><use href="#c" class="g" x="842" y="0"/><use href="#c" class="g" x="902" y="0"/><use href="#c" class="y" x="932" y="30"/><use href="#c" class="g" x="962" y="0"/>
<rect class="go" x="32" y="0" width="285" height="60"/><rect class="bo" x="32" y="0" width="176.3" height="60"/><rect class="po" x="208.3" y="0" width="9.8" height="60"/><rect class="po" x="931.9" y="0" width="9.8" height="60"/><rect class="bo" x="941.7" y="0" width="50.3" height="60"/>
<use href="#Q4"/>
<text class="tp" y="-20.4"><tspan x="36.5">=138</tspan><tspan x="276.5">=129</tspan><tspan x="516.5">=131</tspan><tspan x="756.5">=132</tspan></text>
<text class="mn" y="-7.5"><tspan x="32">81</tspan><tspan x="272">82</tspan><tspan x="512">83</tspan><tspan x="752">84</tspan></text>
<text class="gy" y="76"><tspan x="271">300</tspan><tspan x="511">168</tspan><tspan x="751">184</tspan><tspan x="991">168</tspan></text>
<text class="gn" y="89.3"><tspan x="271">116081</tspan><tspan x="511">117089</tspan><tspan x="751">118193</tspan><tspan x="991">119501</tspan></text>
<text class="pc" y="102.3"><tspan x="271">0.00%</tspan><tspan x="511">27.55%</tspan><tspan x="751">27.55%</tspan><tspan x="991">24.98%</tspan></text>
</g>

<g id="row22" transform="translate(0,3166.7)">
<use href="#G4"/>
<path class="sb" d="M32 45h45M122 45h45M272 45h45M362 45h45"/><path class="sr" d="M512 15h45"/><path class="sg" d="M752 0h45M842 0h45"/>
<use href="#c" class="b" x="32" y="45"/><use href="#c" class="b" x="92" y="45"/><use href="#c" class="b" x="122" y="45"/><use href="#c" class="b" x="182" y="45"/><use href="#c" class="y" x="212" y="30"/><use href="#c" class="r" x="242" y="15"/><use href="#c" class="b" x="272" y="45"/><use href="#c" class="b" x="332" y="45"/><use href="#c" class="b" x="362" y="45"/><use href="#c" class="b" x="422" y="45"/><use href="#c" class="g" x="452" y="0"/><use href="#c" class="y" x="482" y="30"/><use href="#c" class="r" x="512" y="15"/><use href="#c" class="r" x="572" y="15"/><use href="#c" class="r" x="602" y="15"/><use href="#c" class="r" x="632" y="15"/><use href="#c" class="r" x="662" y="15"/><use href="#c" class="r" x="692" y="15"/><use href="#c" class="y" x="722" y="30"/><use href="#c" class="g" x="752" y="0"/><use href="#c" class="g" x="812" y="0"/><use href="#c" class="g" x="842" y="0"/><use href="#c" class="g" x="902" y="0"/><use href="#c" class="y" x="932" y="30"/><use href="#c" class="g" x="962" y="0"/>
<rect class="bo" x="32" y="0" width="960" height="60"/>
<use href="#Q4"/>
<text class="tp" y="-20.4"><tspan x="36.5">=131</tspan><tspan x="276.5">=130</tspan><tspan x="516.5">=131</tspan><tspan x="756.5">=131</tspan></text>
<text class="mn" y="-7.5"><tspan x="32">85</tspan><tspan x="272">86</tspan><tspan x="512">87</tspan><tspan x="752">88</tspan></text>
<text class="gy" y="76"><tspan x="271">168</tspan><tspan x="511">168</tspan><tspan x="751">184</tspan><tspan x="991">168</tspan></text>
<text class="gn" y="89.3"><tspan x="271">121517</tspan><tspan x="511">123533</tspan><tspan x="751">125741</tspan><tspan x="991">127757</tspan></text>
<text class="pc" y="102.3"><tspan x="271">12.48%</tspan><tspan x="511">0.00%</tspan><tspan x="751">0.00%</tspan><tspan x="991">0.00%</tspan></text>
</g>

<g id="row23" transform="translate(0,3307.7)">
<use href="#G4"/>
<path class="sb" d="M32 45h45M122 45h45M842 45h75"/>
<use href="#s" class="b" x="32" y="45"/><use href="#s" class="b" x="92" y="45"/><use href="#s" class="b" x="122" y="45"/><use href="#s" class="y" x="182" y="30"/><use href="#s" class="g" x="212" y="0"/><use href="#s" class="r" x="242" y="15"/>
<use href="#c" class="g" x="272" y="0"/><use href="#c" class="g" x="302" y="0"/><use href="#c" class="g" x="332" y="0"/><use href="#c" class="g" x="362" y="0"/><use href="#c" class="g" x="392" y="0"/><use href="#c" class="g" x="422" y="0"/><use href="#c" class="g" x="452" y="0"/><use href="#c" class="g" x="482" y="0"/><use href="#c" class="r" x="512" y="15"/><use href="#c" class="r" x="542" y="15"/><use href="#c" class="r" x="572" y="15"/><use href="#c" class="r" x="602" y="15"/><use href="#c" class="r" x="632" y="15"/><use href="#c" class="r" x="662" y="15"/><use href="#c" class="r" x="692" y="15"/><use href="#c" class="g" x="722" y="0"/><use href="#c" class="b" x="752" y="45"/><use href="#c" class="b" x="782" y="45"/><use href="#c" class="b" x="812" y="45"/><use href="#c" class="b" x="842" y="45"/><use href="#c" class="b" x="932" y="45"/><use href="#c" class="b" x="962" y="45"/>
<rect class="go" x="32" y="0" width="210" height="60"/><rect class="bo" x="32" y="0" width="8.5" height="60"/>
<use href="#Q4"/>
<text class="tp" y="-20.4"><tspan x="36.5">=132</tspan><tspan x="276.5">=131</tspan><tspan x="516.5">=132</tspan><tspan x="756.5">=131</tspan></text>
<text class="mn" y="-7.5"><tspan x="32">89</tspan><tspan x="272">90</tspan><tspan x="512">91</tspan><tspan x="752">92</tspan></text>
<text class="gy" y="76"><tspan x="271">168</tspan><tspan x="511">200</tspan><tspan x="751">200</tspan><tspan x="991">165</tspan></text>
<text class="gn" y="89.3"><tspan x="271">128927</tspan><tspan x="511">130127</tspan><tspan x="751">131327</tspan><tspan x="991">132317</tspan></text>
<text class="pc" y="102.3"><tspan x="271">29.54%</tspan><tspan x="511">29.54%</tspan><tspan x="751">29.54%</tspan><tspan x="991">29.54%</tspan></text>
</g>

<g id="row24" transform="translate(0,3448.7)">
<use href="#G4"/>
<path class="sb" d="M32 45h45M122 45h45M752 45h45M872 45h45"/>
<use href="#c" class="b" x="32" y="45"/><use href="#c" class="b" x="92" y="45"/><use href="#c" class="b" x="122" y="45"/><use href="#c" class="y" x="182" y="30"/><use href="#c" class="g" x="212" y="0"/><use href="#c" class="r" x="242" y="15"/><use href="#c" class="g" x="272" y="0"/><use href="#c" class="g" x="302" y="0"/><use href="#c" class="g" x="332" y="0"/><use href="#c" class="g" x="362" y="0"/><use href="#c" class="g" x="392" y="0"/><use href="#c" class="g" x="422" y="0"/><use href="#c" class="g" x="452" y="0"/><use href="#c" class="y" x="482" y="30"/><use href="#c" class="r" x="512" y="15"/><use href="#c" class="r" x="542" y="15"/><use href="#c" class="r" x="572" y="15"/><use href="#c" class="r" x="602" y="15"/><use href="#c" class="r" x="632" y="15"/><use href="#c" class="r" x="662" y="15"/><use href="#c" class="r" x="692" y="15"/><use href="#c" class="g" x="722" y="0"/><use href="#c" class="b" x="752" y="45"/><use href="#c" class="b" x="812" y="45"/><use href="#c" class="b" x="842" y="45"/><use href="#c" class="b" x="872" y="45"/><use href="#c" class="b" x="932" y="45"/><use href="#c" class="b" x="962" y="45"/>
<use href="#Q4"/>
<text class="tp" y="-20.4"><tspan x="36.5">=132</tspan><tspan x="276.5">=132</tspan><tspan x="516.5">=132</tspan><tspan x="756.5">=133</tspan></text>
<text class="mn" y="-7.5"><tspan x="32">93</tspan><tspan x="272">94</tspan><tspan x="512">95</tspan><tspan x="752">96</tspan></text>
<text class="gy" y="76"><tspan x="271">168</tspan><tspan x="511">200</tspan><tspan x="751">200</tspan><tspan x="991">168</tspan></text>
<text class="gn" y="89.3"><tspan x="271">133325</tspan><tspan x="511">134525</tspan><tspan x="751">135725</tspan><tspan x="991">136733</tspan></text>
<text class="pc" y="102.3"><tspan x="271">29.54%</tspan><tspan x="511">29.54%</tspan><tspan x="751">29.54%</tspan><tspan x="991">29.54%</tspan></text>
</g>

<g id="row25" transform="translate(0,3589.7)">
<use href="#G4"/>
<path class="sb" d="M32 45h45M272 45h45M392 45h45"/><path class="sy" d="M512 30h45M632 30h45"/><path class="sr" d="M752 15h45M872 15h45"/>
<use href="#c" class="b" x="32" y="45"/><use href="#c" class="b" x="92" y="45"/><use href="#c" class="b" x="122" y="45"/><use href="#c" class="b" x="152" y="45"/><use href="#c" class="b" x="182" y="45"/><use href="#c" class="y" x="212" y="30"/><use href="#c" class="r" x="242" y="15"/><use href="#c" class="b" x="272" y="45"/><use href="#c" class="b" x="332" y="45"/><use href="#c" class="b" x="362" y="45"/><use href="#c" class="b" x="392" y="45"/><use href="#c" class="b" x="452" y="45"/><use href="#c" class="b" x="482" y="45"/><use href="#c" class="y" x="512" y="30"/><use href="#c" class="y" x="572" y="30"/><use href="#c" class="y" x="602" y="30"/><use href="#c" class="y" x="632" y="30"/><use href="#c" class="y" x="692" y="30"/><use href="#c" class="y" x="722" y="30"/><use href="#c" class="r" x="752" y="15"/><use href="#c" class="r" x="812" y="15"/><use href="#c" class="r" x="842" y="15"/><use href="#c" class="r" x="872" y="15"/><use href="#c" class="r" x="932" y="15"/><use href="#c" class="r" x="962" y="15"/>
<use href="#Q4"/>
<text class="tp" y="-20.4"><tspan x="36.5">=138</tspan><tspan x="276.5">=131</tspan><tspan x="516.5">=131</tspan><tspan x="756.5">=132</tspan></text>
<text class="mn" y="-7.5"><tspan x="32">97</tspan><tspan x="272">98</tspan><tspan x="512">99</tspan><tspan x="752">100</tspan></text>
<text class="gy" y="76"><tspan x="271">184</tspan><tspan x="511">168</tspan><tspan x="751">168</tspan><tspan x="991">168</tspan></text>
<text class="gn" y="89.3"><tspan x="271">137837</tspan><tspan x="511">138845</tspan><tspan x="751">139853</tspan><tspan x="991">140861</tspan></text>
<text class="pc" y="102.3"><tspan x="271">29.54%</tspan><tspan x="511">29.54%</tspan><tspan x="751">29.54%</tspan><tspan x="991">29.54%</tspan></text>
</g>

<g id="row26" transform="translate(0,3730.7)">
<use href="#G4"/>
<path class="sg" d="M32 0h45M152 0h45"/><path class="sb" d="M272 45h45M392 45h45"/><path class="sy" d="M512 30h45M632 30h45"/><path class="sr" d="M752 15h45M872 15h45"/>
<use href="#c" class="g" x="32" y="0"/><use href="#c" class="g" x="92" y="0"/><use href="#c" class="g" x="122" y="0"/><use href="#c" class="g" x="152" y="0"/><use href="#c" class="r" x="212" y="15"/><use href="#c" class="g" x="242" y="0"/><use href="#c" class="b" x="272" y="45"/><use href="#c" class="b" x="332" y="45"/><use href="#c" class="b" x="362" y="45"/><use href="#c" class="b" x="392" y="45"/><use href="#c" class="b" x="452" y="45"/><use href="#c" class="b" x="482" y="45"/>
<use href="#s" class="y" x="512" y="30"/><use href="#s" class="y" x="572" y="30"/><use href="#s" class="y" x="602" y="30"/><use href="#s" class="y" x="632" y="30"/><use href="#s" class="y" x="692" y="30"/><use href="#s" class="y" x="722" y="30"/>
<use href="#c" class="r" x="752" y="15"/><use href="#c" class="r" x="812" y="15"/><use href="#c" class="r" x="842" y="15"/><use href="#c" class="r" x="872" y="15"/><use href="#c" class="r" x="932" y="15"/><use href="#c" class="r" x="962" y="15"/>
<rect class="go" x="512" y="0" width="210" height="60"/>
<use href="#Q4"/>
<text class="tp" y="-20.4"><tspan x="36.5">=131</tspan><tspan x="276.5">=131</tspan><tspan x="516.5">=133</tspan><tspan x="756.5">=133</tspan></text>
<text class="mn" y="-7.5"><tspan x="32">101</tspan><tspan x="272">102</tspan><tspan x="512">103</tspan><tspan x="752">104</tspan></text>
<text class="gy" y="76"><tspan x="271">168</tspan><tspan x="511">168</tspan><tspan x="751">168</tspan><tspan x="991">168</tspan></text>
<text class="gn" y="89.3"><tspan x="271">141869</tspan><tspan x="511">142877</tspan><tspan x="751">143885</tspan><tspan x="991">144893</tspan></text>
<text class="pc" y="102.3"><tspan x="271">29.54%</tspan><tspan x="511">29.54%</tspan><tspan x="751">59.64%</tspan><tspan x="991">59.64%</tspan></text>
</g>

<g id="row27" transform="translate(0,3871.7)">
<use href="#G4"/>
<path class="sg" d="M32 0h45M272 0h45M392 0h45M512 0h45"/>
<use href="#c" class="g" x="32" y="0"/><use href="#c" class="g" x="92" y="0"/><use href="#c" class="g" x="122" y="0"/><use href="#c" class="g" x="152" y="0"/><use href="#c" class="g" x="182" y="0"/><use href="#c" class="r" x="212" y="15"/><use href="#c" class="g" x="242" y="0"/><use href="#c" class="g" x="272" y="0"/><use href="#c" class="g" x="332" y="0"/><use href="#c" class="g" x="362" y="0"/><use href="#c" class="g" x="392" y="0"/><use href="#c" class="g" x="452" y="0"/><use href="#c" class="g" x="482" y="0"/><use href="#c" class="g" x="512" y="0"/><use href="#c" class="g" x="572" y="0"/><use href="#c" class="g" x="602" y="0"/><use href="#c" class="g" x="632" y="0"/><use href="#c" class="g" x="662" y="0"/><use href="#c" class="r" x="692" y="15"/><use href="#c" class="g" x="722" y="0"/><use href="#c" class="g" x="752" y="0"/><use href="#c" class="g" x="782" y="0"/><use href="#c" class="r" x="812" y="15"/><use href="#c" class="g" x="842" y="0"/><use href="#c" class="g" x="872" y="0"/><use href="#c" class="g" x="902" y="0"/><use href="#c" class="r" x="932" y="15"/><use href="#c" class="r" x="947" y="15"/><use href="#c" class="y" x="962" y="30"/><use href="#c" class="y" x="977" y="30"/>
<rect class="po" x="122.1" y="0" width="11.8" height="60"/><rect class="bo" x="133.9" y="0" width="858.1" height="60"/>
<use href="#Q4"/>
<text class="tp" y="-20.4"><tspan x="36.5">=132</tspan><tspan x="276.5">=133</tspan><tspan x="516.5">=133</tspan><tspan x="756.5">=138</tspan></text>
<text class="mn" y="-7.5"><tspan x="32">105</tspan><tspan x="272">106</tspan><tspan x="512">107</tspan><tspan x="752">108</tspan></text>
<text class="gy" y="76"><tspan x="271">184</tspan><tspan x="511">168</tspan><tspan x="751">184</tspan><tspan x="991">250</tspan></text>
<text class="gn" y="89.3"><tspan x="271">146747</tspan><tspan x="511">148763</tspan><tspan x="751">150971</tspan><tspan x="991">153971</tspan></text>
<text class="pc" y="102.3"><tspan x="271">52.46%</tspan><tspan x="511">39.96%</tspan><tspan x="751">27.46%</tspan><tspan x="991">14.96%</tspan></text>
</g>

<g id="row28" transform="translate(0,4012.7)">
<rect class="pb" x="782" y="-10.5" width="180" height="81.5"/>
<use href="#G4"/>
<path class="sb" d="M32 45h45M152 45h45M512 45h45M632 45h45"/><path class="so" d="M272 60h45M392 60h45"/>
<use href="#c" class="b" x="32" y="45"/><use href="#c" class="b" x="92" y="45"/><use href="#c" class="b" x="122" y="45"/><use href="#c" class="b" x="152" y="45"/><use href="#c" class="y" x="212" y="30"/><use href="#c" class="y" x="227" y="30"/><use href="#c" class="b" x="242" y="45"/><use href="#c" class="b" x="257" y="45"/><use href="#c" class="o" x="272" y="60"/><use href="#c" class="o" x="332" y="60"/><use href="#c" class="o" x="362" y="60"/><use href="#c" class="o" x="392" y="60"/><use href="#c" class="o" x="452" y="60"/><use href="#c" class="o" x="482" y="60"/><use href="#c" class="b" x="512" y="45"/><use href="#c" class="b" x="572" y="45"/><use href="#c" class="b" x="602" y="45"/><use href="#c" class="b" x="632" y="45"/><use href="#c" class="b" x="692" y="45"/><use href="#c" class="b" x="722" y="45"/>
<use href="#s" class="r" x="782" y="15"/><use href="#s" class="r" x="812" y="15"/><use href="#s" class="r" x="842" y="15"/><use href="#s" class="r" x="872" y="15"/><use href="#s" class="r" x="902" y="15"/><use href="#s" class="r" x="932" y="15"/><use href="#s" class="r" x="962" y="15"/>
<rect class="go" x="782" y="0" width="180" height="60"/><rect class="bo" x="32" y="0" width="286.7" height="60"/><rect class="po" x="318.7" y="0" width="13.1" height="60"/>
<use href="#Q4"/>
<text class="tp" y="-20.4"><tspan x="36.5">=129</tspan><tspan x="276.5">=131</tspan><tspan x="516.5">=132</tspan><tspan x="756.5">=132</tspan></text>
<text class="mn" y="-7.5"><tspan x="32">109</tspan><tspan x="272">110</tspan><tspan x="512">111</tspan><tspan x="752">112</tspan></text>
<text class="gy" y="76"><tspan x="271">218</tspan><tspan x="511">168</tspan><tspan x="751">168</tspan><tspan x="991">175</tspan></text>
<text class="gn" y="89.3"><tspan x="271">156587</tspan><tspan x="511">157949</tspan><tspan x="751">158957</tspan><tspan x="991">160007</tspan></text>
<text class="pc" y="102.3"><tspan x="271">2.46%</tspan><tspan x="511">0.00%</tspan><tspan x="751">0.00%</tspan><tspan x="991">25.00%</tspan></text>
</g>

<g id="row29" transform="translate(0,4153.7)">
<use href="#G4"/>
<path class="sb" d="M32 45h45M152 45h45M512 45h45M632 45h45"/><path class="so" d="M272 60h45M392 60h45"/>
<use href="#c" class="b" x="32" y="45"/><use href="#c" class="b" x="92" y="45"/><use href="#c" class="b" x="122" y="45"/><use href="#c" class="b" x="152" y="45"/><use href="#c" class="y" x="212" y="30"/><use href="#c" class="y" x="227" y="30"/><use href="#c" class="b" x="242" y="45"/><use href="#c" class="b" x="257" y="45"/><use href="#c" class="o" x="272" y="60"/><use href="#c" class="o" x="332" y="60"/><use href="#c" class="o" x="362" y="60"/><use href="#c" class="o" x="392" y="60"/><use href="#c" class="o" x="452" y="60"/><use href="#c" class="o" x="482" y="60"/><use href="#c" class="b" x="512" y="45"/><use href="#c" class="b" x="572" y="45"/><use href="#c" class="b" x="602" y="45"/><use href="#c" class="b" x="632" y="45"/><use href="#c" class="b" x="692" y="45"/><use href="#c" class="b" x="722" y="45"/><use href="#c" class="r" x="782" y="15"/><use href="#c" class="r" x="812" y="15"/><use href="#c" class="r" x="842" y="15"/><use href="#c" class="r" x="872" y="15"/><use href="#c" class="r" x="902" y="15"/><use href="#c" class="r" x="932" y="15"/><use href="#c" class="r" x="962" y="15"/>
<rect class="po" x="32" y="0" width="8.5" height="60"/><rect class="bo" x="40.5" y="0" width="951.5" height="60"/>
<use href="#Q4"/>
<text class="tp" y="-20.4"><tspan x="36.5">=129</tspan><tspan x="276.5">=131</tspan><tspan x="516.5">=134</tspan><tspan x="756.5">=137</tspan></text>
<text class="mn" y="-7.5"><tspan x="32">113</tspan><tspan x="272">114</tspan><tspan x="512">115</tspan><tspan x="752">116</tspan></text>
<text class="gy" y="76"><tspan x="271">218</tspan><tspan x="511">168</tspan><tspan x="751">168</tspan><tspan x="991">175</tspan></text>
<text class="gn" y="89.3"><tspan x="271">162623</tspan><tspan x="511">164639</tspan><tspan x="751">166655</tspan><tspan x="991">168755</tspan></text>
<text class="pc" y="102.3"><tspan x="271">13.00%</tspan><tspan x="511">0.50%</tspan><tspan x="751">0.00%</tspan><tspan x="991">0.00%</tspan></text>
</g>

<g id="row30" transform="translate(0,4294.7)">
<use href="#G4"/>
<path class="sb" d="M32 45h45M152 45h45"/><path class="sy" d="M272 30h45M392 30h45"/><path class="sr" d="M512 15h45M632 15h45"/><path class="sg" d="M752 0h45"/>
<use href="#c" class="b" x="32" y="45"/><use href="#c" class="b" x="92" y="45"/><use href="#c" class="b" x="122" y="45"/><use href="#c" class="b" x="152" y="45"/><use href="#c" class="b" x="212" y="45"/><use href="#c" class="b" x="242" y="45"/><use href="#c" class="y" x="272" y="30"/><use href="#c" class="y" x="332" y="30"/><use href="#c" class="y" x="362" y="30"/><use href="#c" class="y" x="392" y="30"/><use href="#c" class="y" x="452" y="30"/><use href="#c" class="y" x="482" y="30"/><use href="#c" class="r" x="512" y="15"/><use href="#c" class="r" x="572" y="15"/><use href="#c" class="r" x="602" y="15"/><use href="#c" class="r" x="632" y="15"/><use href="#c" class="r" x="692" y="15"/><use href="#c" class="r" x="722" y="15"/><use href="#c" class="g" x="752" y="0"/><use href="#c" class="g" x="812" y="0"/><use href="#c" class="g" x="842" y="0"/><use href="#c" class="g" x="872" y="0"/><use href="#c" class="g" x="902" y="0"/><use href="#c" class="r" x="932" y="15"/><use href="#c" class="g" x="962" y="0"/>
<rect class="bo" x="32" y="0" width="8.5" height="60"/>
<use href="#Q4"/>
<text class="tp" y="-20.4"><tspan x="36.5">=131</tspan><tspan x="276.5">=133</tspan><tspan x="516.5">=133</tspan><tspan x="756.5">=131</tspan></text>
<text class="mn" y="-7.5"><tspan x="32">117</tspan><tspan x="272">118</tspan><tspan x="512">119</tspan><tspan x="752">120</tspan></text>
<text class="gy" y="76"><tspan x="271">168</tspan><tspan x="511">168</tspan><tspan x="751">168</tspan><tspan x="991">184</tspan></text>
<text class="gn" y="89.3"><tspan x="271">169925</tspan><tspan x="511">170933</tspan><tspan x="751">171941</tspan><tspan x="991">173045</tspan></text>
<text class="pc" y="102.3"><tspan x="271">0.00%</tspan><tspan x="511">0.00%</tspan><tspan x="751">0.00%</tspan><tspan x="991">0.00%</tspan></text>
</g>

<g id="row31" transform="translate(0,4435.7)">
<use href="#G4"/>
<path class="sb" d="M32 45h45M152 45h45"/><path class="sy" d="M272 30h45M392 30h45"/><path class="sr" d="M512 15h45M632 15h45"/><path class="sg" d="M752 0h45"/>
<use href="#s" class="b" x="32" y="45"/><use href="#s" class="b" x="92" y="45"/><use href="#s" class="b" x="122" y="45"/><use href="#s" class="b" x="152" y="45"/><use href="#s" class="b" x="212" y="45"/><use href="#s" class="b" x="242" y="45"/>
<use href="#c" class="y" x="272" y="30"/><use href="#c" class="y" x="332" y="30"/><use href="#c" class="y" x="362" y="30"/><use href="#c" class="y" x="392" y="30"/><use href="#c" class="y" x="452" y="30"/><use href="#c" class="y" x="482" y="30"/><use href="#c" class="r" x="512" y="15"/><use href="#c" class="r" x="572" y="15"/><use href="#c" class="r" x="602" y="15"/><use href="#c" class="r" x="632" y="15"/><use href="#c" class="r" x="692" y="15"/><use href="#c" class="r" x="722" y="15"/><use href="#c" class="g" x="752" y="0"/><use href="#c" class="g" x="812" y="0"/><use href="#c" class="g" x="842" y="0"/><use href="#c" class="g" x="872" y="0"/><use href="#c" class="g" x="902" y="0"/><use href="#c" class="r" x="932" y="15"/><use href="#c" class="g" x="962" y="0"/>
<rect class="go" x="32" y="0" width="210" height="60"/>
<use href="#Q4"/>
<text class="tp" y="-20.4"><tspan x="36.5">=130</tspan><tspan x="276.5">=133</tspan><tspan x="516.5">=133</tspan><tspan x="756.5">=132</tspan></text>
<text class="mn" y="-7.5"><tspan x="32">121</tspan><tspan x="272">122</tspan><tspan x="512">123</tspan><tspan x="752">124</tspan></text>
<text class="gy" y="76"><tspan x="271">168</tspan><tspan x="511">168</tspan><tspan x="751">168</tspan><tspan x="991">184</tspan></text>
<text class="gn" y="89.3"><tspan x="271">174053</tspan><tspan x="511">175061</tspan><tspan x="751">176069</tspan><tspan x="991">177173</tspan></text>
<text class="pc" y="102.3"><tspan x="271">30.10%</tspan><tspan x="511">30.10%</tspan><tspan x="751">30.10%</tspan><tspan x="991">30.10%</tspan></text>
</g>

<g id="row32" transform="translate(0,4576.7)">
<use href="#G4"/>
<path class="sb" d="M32 45h45M152 45h45"/><path class="sy" d="M272 30h45M392 30h45"/><path class="sr" d="M512 15h45M632 15h45"/><path class="sg" d="M752 0h45"/>
<use href="#c" class="b" x="32" y="45"/><use href="#c" class="b" x="92" y="45"/><use href="#c" class="b" x="122" y="45"/><use href="#c" class="b" x="152" y="45"/><use href="#c" class="b" x="212" y="45"/><use href="#c" class="b" x="242" y="45"/><use href="#c" class="y" x="272" y="30"/><use href="#c" class="y" x="332" y="30"/><use href="#c" class="y" x="362" y="30"/><use href="#c" class="y" x="392" y="30"/><use href="#c" class="y" x="452" y="30"/><use href="#c" class="y" x="482" y="30"/><use href="#c" class="r" x="512" y="15"/><use href="#c" class="r" x="572" y="15"/><use href="#c" class="r" x="602" y="15"/><use href="#c" class="r" x="632" y="15"/><use href="#c" class="r" x="692" y="15"/><use href="#c" class="r" x="722" y="15"/><use href="#c" class="g" x="752" y="0"/><use href="#c" class="g" x="812" y="0"/><use href="#c" class="g" x="842" y="0"/><use href="#c" class="g" x="872" y="0"/><use href="#c" class="g" x="902" y="0"/><use href="#c" class="r" x="932" y="15"/><use href="#c" class="g" x="962" y="0"/>
<use href="#Q4"/>
<text class="tp" y="-20.4"><tspan x="36.5">=131</tspan><tspan x="276.5">=132</tspan><tspan x="516.5">=133</tspan><tspan x="756.5">=132</tspan></text>
<text class="mn" y="-7.5"><tspan x="32">125</tspan><tspan x="272">126</tspan><tspan x="512">127</tspan><tspan x="752">128</tspan></text>
<text class="gy" y="76"><tspan x="271">168</tspan><tspan x="511">168</tspan><tspan x="751">168</tspan><tspan x="991">184</tspan></text>
<text class="gn" y="89.3"><tspan x="271">178181</tspan><tspan x="511">179189</tspan><tspan x="751">180197</tspan><tspan x="991">181301</tspan></text>
<text class="pc" y="102.3"><tspan x="271">30.10%</tspan><tspan x="511">30.10%</tspan><tspan x="751">30.10%</tspan><tspan x="991">30.10%</tspan></text>
</g>

<g id="row33" transform="translate(0,4717.7)">
<use href="#G4"/>
<path class="sb" d="M32 45h45M152 45h45"/><path class="sy" d="M272 30h45M392 30h45"/><path class="sr" d="M512 15h45M632 15h45"/><path class="sg" d="M752 0h45M872 0h45"/>
<use href="#c" class="b" x="32" y="45"/><use href="#c" class="b" x="92" y="45"/><use href="#c" class="b" x="122" y="45"/><use href="#c" class="b" x="152" y="45"/><use href="#c" class="b" x="212" y="45"/><use href="#c" class="b" x="242" y="45"/>
<use href="#s" class="y" x="272" y="30"/><use href="#s" class="y" x="332" y="30"/><use href="#s" class="y" x="362" y="30"/><use href="#s" class="y" x="392" y="30"/><use href="#s" class="y" x="452" y="30"/><use href="#s" class="y" x="482" y="30"/>
<use href="#c" class="r" x="512" y="15"/><use href="#c" class="r" x="572" y="15"/><use href="#c" class="r" x="602" y="15"/><use href="#c" class="r" x="632" y="15"/><use href="#c" class="r" x="692" y="15"/><use href="#c" class="r" x="722" y="15"/><use href="#c" class="g" x="752" y="0"/><use href="#c" class="g" x="812" y="0"/><use href="#c" class="g" x="842" y="0"/><use href="#c" class="g" x="872" y="0"/><use href="#c" class="r" x="932" y="15"/><use href="#c" class="g" x="962" y="0"/>
<rect class="go" x="272" y="0" width="210" height="60"/>
<use href="#Q4"/>
<text class="tp" y="-20.4"><tspan x="36.5">=132</tspan><tspan x="276.5">=132</tspan><tspan x="516.5">=134</tspan><tspan x="756.5">=133</tspan></text>
<text class="mn" y="-7.5"><tspan x="32">129</tspan><tspan x="272">130</tspan><tspan x="512">131</tspan><tspan x="752">132</tspan></text>
<text class="gy" y="76"><tspan x="271">168</tspan><tspan x="511">168</tspan><tspan x="751">168</tspan><tspan x="991">168</tspan></text>
<text class="gn" y="89.3"><tspan x="271">182309</tspan><tspan x="511">183317</tspan><tspan x="751">184325</tspan><tspan x="991">185333</tspan></text>
<text class="pc" y="102.3"><tspan x="271">30.10%</tspan><tspan x="511">60.20%</tspan><tspan x="751">60.20%</tspan><tspan x="991">60.20%</tspan></text>
</g>

<g id="row34" transform="translate(0,4858.7)">
<use href="#G4"/>
<path class="sb" d="M32 45h45M152 45h45"/><path class="sy" d="M272 30h45M392 30h45"/><path class="sr" d="M512 15h45M632 15h45"/><path class="sg" d="M752 0h45"/>
<use href="#c" class="b" x="32" y="45"/><use href="#c" class="b" x="92" y="45"/><use href="#c" class="b" x="122" y="45"/><use href="#c" class="b" x="152" y="45"/><use href="#c" class="b" x="212" y="45"/><use href="#c" class="b" x="242" y="45"/><use href="#c" class="y" x="272" y="30"/><use href="#c" class="y" x="332" y="30"/><use href="#c" class="y" x="362" y="30"/><use href="#c" class="y" x="392" y="30"/><use href="#c" class="y" x="452" y="30"/><use href="#c" class="y" x="482" y="30"/><use href="#c" class="r" x="512" y="15"/><use href="#c" class="r" x="572" y="15"/><use href="#c" class="r" x="602" y="15"/><use href="#c" class="r" x="632" y="15"/><use href="#c" class="r" x="692" y="15"/><use href="#c" class="r" x="722" y="15"/><use href="#c" class="g" x="752" y="0"/><use href="#c" class="g" x="812" y="0"/><use href="#c" class="g" x="842" y="0"/><use href="#c" class="g" x="872" y="0"/><use href="#c" class="g" x="902" y="0"/><use href="#c" class="r" x="932" y="15"/><use href="#c" class="g" x="962" y="0"/>
<rect class="po" x="572.1" y="0" width="9.8" height="60"/><rect class="bo" x="581.9" y="0" width="410.1" height="60"/>
<use href="#Q4"/>
<text class="tp" y="-20.4"><tspan x="36.5">=133</tspan><tspan x="276.5">=133</tspan><tspan x="516.5">=133</tspan><tspan x="756.5">=132</tspan></text>
<text class="mn" y="-7.5"><tspan x="32">133</tspan><tspan x="272">134</tspan><tspan x="512">135</tspan><tspan x="752">136</tspan></text>
<text class="gy" y="76"><tspan x="271">168</tspan><tspan x="511">168</tspan><tspan x="751">168</tspan><tspan x="991">184</tspan></text>
<text class="gn" y="89.3"><tspan x="271">186341</tspan><tspan x="511">187349</tspan><tspan x="751">189161</tspan><tspan x="991">191369</tspan></text>
<text class="pc" y="102.3"><tspan x="271">60.20%</tspan><tspan x="511">60.20%</tspan><tspan x="751">51.44%</tspan><tspan x="991">38.94%</tspan></text>
</g>

<g id="row35" transform="translate(0,4999.7)">
<use href="#G4"/>
<path class="sg" d="M32 0h45M152 0h45M272 0h45"/>
<use href="#c" class="g" x="32" y="0"/><use href="#c" class="g" x="92" y="0"/><use href="#c" class="g" x="122" y="0"/><use href="#c" class="g" x="152" y="0"/><use href="#c" class="g" x="212" y="0"/><use href="#c" class="g" x="242" y="0"/><use href="#c" class="g" x="272" y="0"/><use href="#c" class="g" x="332" y="0"/><use href="#c" class="g" x="362" y="0"/><use href="#c" class="g" x="392" y="0"/><use href="#c" class="g" x="422" y="0"/><use href="#c" class="r" x="452" y="15"/><use href="#c" class="g" x="482" y="0"/><use href="#c" class="g" x="512" y="0"/><use href="#c" class="g" x="542" y="0"/><use href="#c" class="r" x="572" y="15"/><use href="#c" class="g" x="602" y="0"/><use href="#c" class="g" x="632" y="0"/><use href="#c" class="g" x="662" y="0"/><use href="#c" class="r" x="692" y="15"/><use href="#c" class="r" x="707" y="15"/><use href="#c" class="y" x="722" y="30"/><use href="#c" class="y" x="737" y="30"/><use href="#c" class="b" x="752" y="45"/><use href="#c" class="b" x="792" y="45"/><use href="#c" class="b" x="832" y="45"/><use href="#c" class="b" x="872" y="45"/><use href="#c" class="b" x="912" y="45"/><use href="#c" class="b" x="952" y="45"/>
<rect class="bo" x="32" y="0" width="747.1" height="60"/><rect class="po" x="779.1" y="0" width="11.8" height="60"/>
<use href="#Q4"/>
<text class="tp" y="-20.4"><tspan x="36.5">=133</tspan><tspan x="276.5">=133</tspan><tspan x="516.5">=133</tspan><tspan x="756.5">=131</tspan></text>
<text class="mn" y="-7.5"><tspan x="32">137</tspan><tspan x="272">138</tspan><tspan x="512">139</tspan><tspan x="752">140</tspan></text>
<text class="gy" y="76"><tspan x="271">168</tspan><tspan x="511">184</tspan><tspan x="751">250</tspan><tspan x="991">150</tspan></text>
<text class="gn" y="89.3"><tspan x="271">193385</tspan><tspan x="511">195593</tspan><tspan x="751">198593</tspan><tspan x="991">199793</tspan></text>
<text class="pc" y="102.3"><tspan x="271">26.44%</tspan><tspan x="511">13.94%</tspan><tspan x="751">1.44%</tspan><tspan x="991">0.00%</tspan></text>
</g>

<g id="row36" transform="translate(0,5140.7)">
<use href="#G4"/>
<path class="sb" d="M272 45h435"/>
<use href="#c" class="o" x="32" y="60"/><use href="#c" class="o" x="72" y="60"/><use href="#c" class="o" x="112" y="60"/><use href="#c" class="o" x="152" y="60"/><use href="#c" class="o" x="192" y="60"/><use href="#c" class="o" x="232" y="60"/><use href="#c" class="b" x="272" y="45"/><use href="#c" class="r" x="722" y="15"/><use href="#c" class="r" x="752" y="15"/><use href="#c" class="o" x="792" y="60"/><use href="#c" class="r" x="832" y="15"/><use href="#c" class="o" x="872" y="60"/><use href="#c" class="r" x="912" y="15"/><use href="#c" class="o" x="952" y="60"/>
<use href="#Q4"/>
<text class="tp" y="-20.4"><tspan x="36.5">=133</tspan><tspan x="276.5">=131</tspan><tspan x="516.5">=136</tspan><tspan x="756.5">=130</tspan></text>
<text class="mn" y="-7.5"><tspan x="32">141</tspan><tspan x="272">142</tspan><tspan x="512">143</tspan><tspan x="752">144</tspan></text>
<text class="gy" y="76"><tspan x="271">150</tspan><tspan x="511">73</tspan><tspan x="751">64</tspan><tspan x="991">150</tspan></text>
<text class="gn" y="89.3"><tspan x="271">200693</tspan><tspan x="511">201131</tspan><tspan x="751">201515</tspan><tspan x="991">202415</tspan></text>
<text class="pc" y="102.3"><tspan x="271">0.00%</tspan><tspan x="511">0.00%</tspan><tspan x="751">0.00%</tspan><tspan x="991">0.00%</tspan></text>
</g>

<g id="row37" transform="translate(0,5281.7)">
<use href="#G3"/>
<path class="sb" d="M272 45h360"/>
<use href="#c" class="r" x="32" y="15"/><use href="#c" class="y" x="72" y="30"/><use href="#c" class="y" x="112" y="30"/><use href="#c" class="y" x="152" y="30"/><use href="#c" class="o" x="192" y="60"/><use href="#c" class="y" x="232" y="30"/><use href="#c" class="b" x="272" y="45"/>
<use href="#q" x="92" y="-21.5"/><use href="#q" x="152" y="-21.5"/><use href="#q" x="272" y="-21.5"/>
<text class="tp" y="-20.4"><tspan x="96.5">=124</tspan><tspan x="156.5">=113</tspan><tspan x="276.5">=132</tspan></text>
<text class="mn" y="-7.5"><tspan x="32">145</tspan><tspan x="272">146</tspan><tspan x="512">147</tspan></text>
<text class="gy" y="76"><tspan x="271">150</tspan><tspan x="511">73</tspan><tspan x="751">24</tspan></text>
<text class="gn" y="89.3"><tspan x="271">203315</tspan><tspan x="511">203753</tspan><tspan x="751">203897</tspan></text>
<text class="pc" y="102.3"><tspan x="271">0.00%</tspan><tspan x="511">0.00%</tspan><tspan x="751">0.00%</tspan></text>
</g>
</g>
</svg>
